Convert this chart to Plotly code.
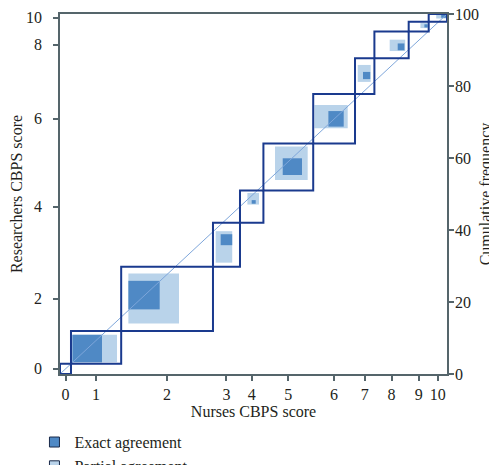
import plotly.graph_objects as go

# ---- data (percent of total) ----
categories = [str(i) for i in range(11)]
nurses_marginal_pct = [2.84, 12.97, 23.72, 6.98, 6.05, 12.87, 10.80, 5.01, 8.86, 5.17, 4.73]
researchers_marginal_pct = [2.86, 9.10, 17.81, 12.21, 9.01, 13.04, 13.72, 9.99, 7.41, 2.69, 2.16]

# exact agreement block inside each category box: offsets from box corner and sizes (percent units)
exact_x_offset = [0, 0.36, 1.86, 1.99, 3.02, 4.99, 3.92, 2.06, 6.02, 4.06, 3.23]
exact_y_offset = [0, 0.39, 5.99, 6.01, 5.32, 4.29, 4.68, 4.16, 2.19, 1.11, 1.11]
exact_w = [0, 7.65, 8.09, 2.98, 1.04, 4.98, 3.96, 1.87, 1.73, 0.85, 1.50]
exact_h = [0, 7.65, 7.93, 3.05, 1.00, 4.64, 4.33, 2.00, 1.89, 0.88, 1.05]

# partial agreement block
partial_x_offset = [0, 0.36, 1.86, 0.70, 1.91, 3.00, 0.31, 0.70, 3.95, 3.03, 1.94]
partial_y_offset = [0, 0.39, 2.10, 1.16, 5.09, 2.91, 4.21, 3.39, 1.97, 0.94, 0.91]
partial_w = [0, 11.53, 13.08, 4.27, 3.00, 8.44, 8.60, 3.35, 4.01, 1.88, 2.79]
partial_h = [0, 7.65, 13.87, 8.74, 3.22, 9.26, 6.46, 4.71, 3.16, 1.39, 1.25]

right_ticks = [0, 20, 40, 60, 80, 100]

# ---- styles ----
FONT = "Liberation Serif"
FS = 16
TXT = "#231f20"
AXIS = "#55656b"
BOX = "#1a3a8e"
EXACT = "#4f89c5"
PARTIAL = "#b9d3ea"
DIAG = "#7ea6da"

# cumulative boundaries
xb = [0.0]
for v in nurses_marginal_pct:
    xb.append(xb[-1] + v)
yb = [0.0]
for v in researchers_marginal_pct:
    yb.append(yb[-1] + v)
xc = [(xb[i] + xb[i + 1]) / 2 for i in range(len(categories))]
yc = [(yb[i] + yb[i + 1]) / 2 for i in range(len(categories))]

shapes = []
for i in range(len(categories)):
    if partial_w[i] > 0:
        shapes.append(dict(type="rect", xref="x", yref="y", layer="above",
                           x0=xb[i] + partial_x_offset[i], x1=min(100, xb[i] + partial_x_offset[i] + partial_w[i]),
                           y0=yb[i] + partial_y_offset[i], y1=min(100, yb[i] + partial_y_offset[i] + partial_h[i]),
                           fillcolor=PARTIAL, line=dict(width=0)))
for i in range(len(categories)):
    if exact_w[i] > 0:
        shapes.append(dict(type="rect", xref="x", yref="y", layer="above",
                           x0=xb[i] + exact_x_offset[i], x1=min(100, xb[i] + exact_x_offset[i] + exact_w[i]),
                           y0=yb[i] + exact_y_offset[i], y1=min(100, yb[i] + exact_y_offset[i] + exact_h[i]),
                           fillcolor=EXACT, line=dict(width=0)))
shapes.append(dict(type="line", xref="x", yref="y", layer="above",
                   x0=xb[0], y0=yb[0], x1=xb[-1], y1=yb[-1], line=dict(color=DIAG, width=1)))
for i in range(len(categories)):
    shapes.append(dict(type="rect", xref="x", yref="y", layer="above",
                       x0=xb[i], x1=xb[i + 1], y0=yb[i], y1=yb[i + 1],
                       line=dict(color=BOX, width=2), fillcolor="rgba(0,0,0,0)"))

fig = go.Figure()
fig.add_trace(go.Scatter(x=[None], y=[None], mode="markers", name="Exact agreement",
                         marker=dict(symbol="square", size=10, color=EXACT, line=dict(color="#1a2a4a", width=1))))
fig.add_trace(go.Scatter(x=[None], y=[None], mode="markers", name="Partial agreement",
                         marker=dict(symbol="square", size=10, color=PARTIAL, line=dict(color="#1a2a4a", width=1))))
fig.add_trace(go.Scatter(x=[0, 100], y=[0, 100], yaxis="y2", mode="markers",
                         marker=dict(opacity=0), showlegend=False, hoverinfo="skip"))

axis_common = dict(showgrid=False, zeroline=False, showline=True, linecolor=AXIS, linewidth=1.5,
                   ticks="outside", ticklen=5, tickcolor=AXIS, tickwidth=1.5, automargin=False,
                   ticklabeloverflow="allow",
                   tickfont=dict(family=FONT, size=FS, color=TXT))

fig.update_layout(
    width=497, height=465,
    margin=dict(l=52, r=58, t=6, b=99, autoexpand=False),
    paper_bgcolor="white", plot_bgcolor="white",
    font=dict(family=FONT, size=FS, color=TXT),
    shapes=shapes,
    xaxis=dict(range=[0, 100], tickvals=xc, ticktext=categories, mirror=True, ticklabelstandoff=0,
               title=dict(text="Nurses CBPS score", font=dict(family=FONT, size=FS, color=TXT), standoff=3),
               **axis_common),
    yaxis=dict(range=[0, 100], tickvals=yc[::2], ticktext=categories[::2], ticklabelstandoff=8,
               title=dict(text="Researchers CBPS score", font=dict(family=FONT, size=FS, color=TXT), standoff=4),
               **axis_common),
    yaxis2=dict(range=[0, 100], overlaying="y", side="right", tickvals=right_ticks, ticklabelstandoff=-2,
                title=dict(text="Cumulative frequency", font=dict(family=FONT, size=FS, color=TXT), standoff=2),
                **axis_common),
    legend=dict(orientation="v", x=-0.066, xanchor="left", y=-0.142, yanchor="top",
                font=dict(family=FONT, size=FS, color=TXT), bgcolor="rgba(0,0,0,0)",
                tracegroupgap=0, itemclick=False),
    showlegend=True,
)

fig.write_html("out.html")
